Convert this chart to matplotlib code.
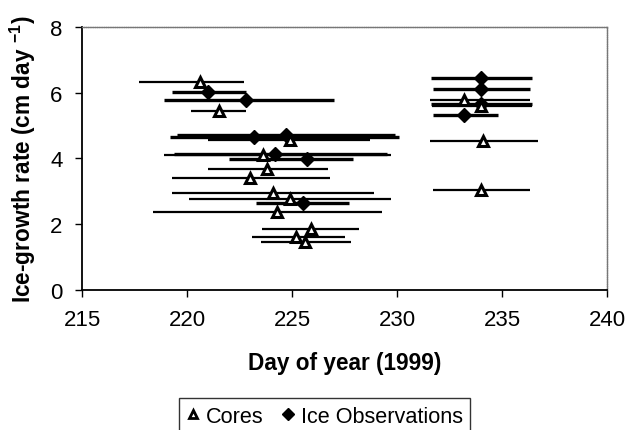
import matplotlib
matplotlib.use("Agg")
import matplotlib.pyplot as plt
from matplotlib.lines import Line2D
import numpy as np

plt.rcParams['font.family'] = ['Liberation Sans', 'DejaVu Sans']
plt.rcParams['mathtext.fontset'] = 'custom'
plt.rcParams['mathtext.rm'] = 'Liberation Sans:bold'
plt.rcParams['mathtext.default'] = 'regular'

# Cores (open triangles): day, rate, error-bar start, error-bar end
cores_day = [220.6, 221.5, 224.9, 223.6, 223.8, 223.0, 224.1, 224.9, 224.3,
             225.9, 225.2, 225.6, 233.2, 234.0, 234.1, 234.0]
cores_rate = [6.33, 5.44, 4.55, 4.12, 3.68, 3.42, 2.95, 2.78, 2.38,
              1.85, 1.62, 1.45, 5.78, 5.60, 4.52, 3.05]
cores_lo = [217.7, 220.2, 221.0, 218.9, 221.0, 219.3, 219.3, 220.1, 218.4,
            223.55, 223.1, 223.5, 231.55, 231.65, 231.55, 231.7]
cores_hi = [222.7, 222.8, 228.7, 229.7, 226.7, 226.8, 228.9, 229.7, 229.3,
            228.2, 227.5, 227.8, 236.3, 236.4, 236.7, 236.3]

# Ice observations (filled diamonds)
ice_day = [221.0, 222.8, 223.2, 224.7, 224.2, 225.7, 225.5, 234.0, 234.0, 234.0, 233.2]
ice_rate = [6.02, 5.78, 4.66, 4.72, 4.13, 3.98, 2.65, 6.45, 6.12, 5.65, 5.33]
ice_lo = [219.3, 218.9, 219.2, 219.5, 219.4, 222.0, 223.3, 231.6, 231.7, 231.6, 231.7]
ice_hi = [222.8, 227.0, 230.1, 229.9, 229.5, 227.9, 227.7, 236.4, 236.3, 236.4, 234.8]

x_ticks = [215, 220, 225, 230, 235, 240]
y_ticks = [0, 2, 4, 6, 8]

fig = plt.figure(figsize=(6.29, 4.31), dpi=100)
ax = fig.add_axes([0.1304, 0.325, 0.835, 0.61])

cd = np.array(cores_day); cr = np.array(cores_rate)
cerr = [cd - np.array(cores_lo), np.array(cores_hi) - cd]
idy = np.array(ice_day); ir = np.array(ice_rate)
ierr = [idy - np.array(ice_lo), np.array(ice_hi) - idy]

ax.errorbar(idy, ir, xerr=ierr, fmt='none', ecolor='black', elinewidth=2.4,
            capsize=0, zorder=2)
ax.errorbar(cd, cr, xerr=cerr, fmt='none', ecolor='black', elinewidth=1.6,
            capsize=0, zorder=2)
ax.plot(cd, cr, linestyle='none', marker='^', markersize=7.5,
        markerfacecolor='white', markeredgecolor='black', markeredgewidth=2.2,
        zorder=4)
ax.plot(idy, ir, linestyle='none', marker='D', markersize=7.5,
        markerfacecolor='black', markeredgecolor='black', zorder=3)

ax.set_xlim(215, 240)
ax.set_ylim(0, 8)
ax.set_xticks(x_ticks)
ax.set_yticks(y_ticks)
ax.tick_params(axis='both', direction='out', length=5, width=1, labelsize=16,
               colors='black')
ax.tick_params(axis='x', pad=9)
ax.tick_params(axis='y', pad=9)

for side in ['left', 'bottom']:
    ax.spines[side].set_color('black')
    ax.spines[side].set_linewidth(1.3)
for side in ['top', 'right']:
    ax.spines[side].set_color('#777777')
    ax.spines[side].set_linewidth(1.0)
    ax.spines[side].set_linestyle((0, (1, 0.6)))

ax.set_xlabel('Day of year (1999)', fontsize=16.3, fontweight='bold', labelpad=15)
ax.set_ylabel(r'Ice-growth rate (cm day $^{-1}$)', fontsize=16.3,
              fontweight='bold', labelpad=9)

h_cores = Line2D([], [], linestyle='none', marker='^', markersize=5.5,
                 markerfacecolor='white', markeredgecolor='black',
                 markeredgewidth=2.0)
h_ice = Line2D([], [], linestyle='none', marker='D', markersize=6.5,
               markerfacecolor='black', markeredgecolor='black')
leg = fig.legend(handles=[h_cores, h_ice], labels=['Cores', 'Ice Observations'],
                 loc='lower center', bbox_to_anchor=(0.516, -0.035), ncol=2,
                 fontsize=15.6, frameon=True, fancybox=False,
                 handlelength=0.6, handletextpad=0.3, columnspacing=0.8,
                 borderpad=0.35)
leg.get_frame().set_edgecolor('black')
leg.get_frame().set_linewidth(1.0)

fig.savefig('out.png', dpi=100)
